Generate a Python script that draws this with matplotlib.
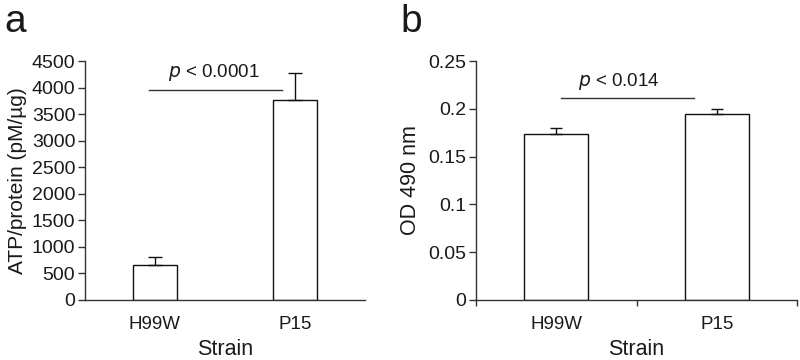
import matplotlib
matplotlib.use("Agg")
import matplotlib.pyplot as plt

plt.rcParams['font.family'] = ['Liberation Sans', 'DejaVu Sans']

strains = ["H99W", "P15"]

# panel a: ATP per protein
atp = [660, 3760]
atp_err = [150, 510]
atp_ticks = [0, 500, 1000, 1500, 2000, 2500, 3000, 3500, 4000, 4500]

# panel b: OD 490
od = [0.1735, 0.1945]
od_err = [0.0065, 0.005]
od_ticks = [0, 0.05, 0.1, 0.15, 0.2, 0.25]
od_ticklabels = ["0", "0.05", "0.1", "0.15", "0.2", "0.25"]

ink = "#1a1a1a"
axc = "#333333"

fig = plt.figure(figsize=(8, 3.6), dpi=100)
ax1 = fig.add_axes([85 / 800, 60 / 360, 280 / 800, 239 / 360])
ax2 = fig.add_axes([476 / 800, 60 / 360, 321 / 800, 239 / 360])


def style(ax):
    for s in ["top", "right"]:
        ax.spines[s].set_visible(False)
    for s in ["left", "bottom"]:
        ax.spines[s].set_color(axc)
        ax.spines[s].set_linewidth(1.0)
    ax.tick_params(axis="y", direction="out", length=5, width=1, color=axc,
                   labelsize=14, labelcolor=ink, pad=2)
    ax.set_xlim(-0.5, 1.5)
    ax.set_xlabel("Strain", fontsize=15.5, color=ink, labelpad=4)


# ---- a ----
ax1.bar(range(2), atp, width=0.31, color="white", edgecolor="#111111", linewidth=1.0)
ax1.errorbar(range(2), atp, yerr=[[0, 0], atp_err], fmt="none", ecolor="#111111",
             elinewidth=1.0, capsize=5, capthick=1.0)
style(ax1)
ax1.set_ylim(0, 4500)
ax1.set_yticks(atp_ticks)
ax1.set_xticks(range(2))
ax1.set_xticklabels(strains)
ax1.tick_params(axis="x", length=0, labelsize=13.5, labelcolor=ink, pad=11.5)
ax1.set_ylabel("ATP/protein (pM/\u00b5g)", fontsize=15, color=ink, labelpad=3)
ax1.plot([-0.04, 0.91], [3950, 3950], color=axc, lw=1.0, clip_on=False)
ax1.text(0.42, 4080, "$\\it{p}$ < 0.0001", ha="center", va="bottom", fontsize=13.5, color=ink)
fig.text(0.005, 0.99, "a", fontsize=28, color=ink, ha="left", va="top")

# ---- b ----
ax2.bar(range(2), od, width=0.40, color="white", edgecolor="#111111", linewidth=1.0)
ax2.errorbar(range(2), od, yerr=[[0, 0], od_err], fmt="none", ecolor="#111111",
             elinewidth=1.0, capsize=4, capthick=1.0)
style(ax2)
ax2.set_ylim(0, 0.25)
ax2.set_yticks(od_ticks)
ax2.set_yticklabels(od_ticklabels)
ax2.set_xticks([-0.5, 0.5, 1.5])
ax2.set_xticklabels([])
ax2.set_xticks([0, 1], minor=True)
ax2.set_xticklabels(strains, minor=True)
ax2.tick_params(axis="x", which="major", direction="out", length=4, width=1, color=axc)
ax2.tick_params(axis="x", which="minor", length=0, labelsize=13.5, labelcolor=ink, pad=11.5)
ax2.set_ylabel("OD 490 nm", fontsize=15.5, color=ink, labelpad=5)
ax2.plot([0.03, 0.86], [0.211, 0.211], color=axc, lw=1.0, clip_on=False)
ax2.text(0.39, 0.2175, "$\\it{p}$ < 0.014", ha="center", va="bottom", fontsize=13.5, color=ink)
fig.text(0.5, 0.99, "b", fontsize=28, color=ink, ha="left", va="top")

fig.savefig("out.png", dpi=100, facecolor="white")
